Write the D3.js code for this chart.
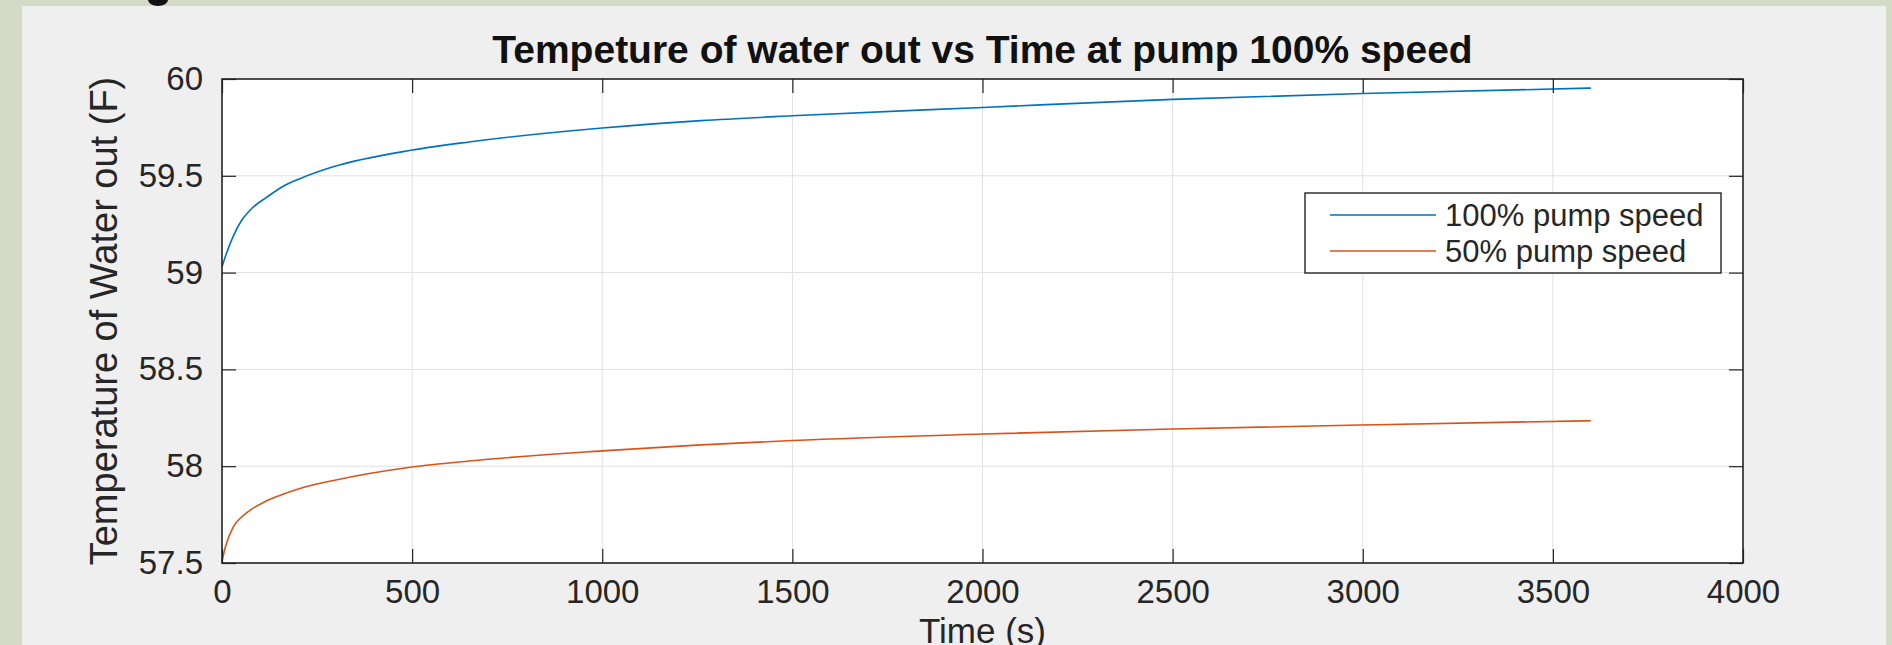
<!DOCTYPE html>
<html>
<head>
<meta charset="utf-8">
<script src="https://cdn.jsdelivr.net/npm/d3@7"></script>
<style>
body { margin: 0; background: #d3d8c4; }
svg { display: block; font-family: "Liberation Sans", Arial, Helvetica, sans-serif; }
</style>
</head>
<body>
<script>
// tiempos (s)
var tiempo = [0, 10, 30, 50, 75, 118, 160, 205, 290, 500, 650, 1000, 1260, 1500, 2000, 2500, 3000, 3600];
var bomba100 = [59.03, 59.09, 59.19, 59.265, 59.325, 59.39, 59.445, 59.485, 59.545, 59.633, 59.675, 59.747, 59.785, 59.81, 59.853, 59.895, 59.925, 59.953];
var bomba50 = [57.51, 57.59, 57.688, 57.735, 57.774, 57.822, 57.855, 57.885, 57.925, 57.996, 58.027, 58.079, 58.11, 58.133, 58.166, 58.192, 58.213, 58.235];

var series = ["100% pump speed", "50% pump speed"];
var colores = ["#0072bd", "#d95319"];

var xTicks = [0, 500, 1000, 1500, 2000, 2500, 3000, 3500, 4000];
var xLabels = ["0", "500", "1000", "1500", "2000", "2500", "3000", "3500", "4000"];
var yTicks = [57.5, 58, 58.5, 59, 59.5, 60];
var yLabels = ["57.5", "58", "58.5", "59", "59.5", "60"];

var titulo = "Tempeture of water out vs Time at pump 100% speed";
var xTitulo = "Time (s)";
var yTitulo = "Temperature of Water out (F)";

function graficar(){
    var W = 1892, H = 645;
    var left = 222, top = 79, right = 1743, bottom = 563;

    var svg = d3.select("body")
        .append("svg")
        .attr("width", W)
        .attr("height", H);

    // fondo de la diapositiva y de la figura
    svg.append("rect")
        .attr("width", W).attr("height", H)
        .attr("fill", "#d5dac6");
    svg.append("ellipse")
        .attr("cx", 158).attr("cy", 0)
        .attr("rx", 10).attr("ry", 6)
        .attr("fill", "#111");
    svg.append("rect")
        .attr("x", 22).attr("y", 6)
        .attr("width", 1864).attr("height", H - 6)
        .attr("fill", "#efefef");

    var x = d3.scaleLinear().domain([0, 4000]).range([left, right]);
    var y = d3.scaleLinear().domain([57.5, 60]).range([bottom, top]);

    svg.append("rect")
        .attr("x", left).attr("y", top)
        .attr("width", right - left).attr("height", bottom - top)
        .attr("fill", "#fff");

    // rejilla
    svg.selectAll("line.gx")
        .data(xTicks.slice(1, -1))
        .enter().append("line")
        .attr("class", "gx")
        .attr("x1", function(d){ return x(d); })
        .attr("x2", function(d){ return x(d); })
        .attr("y1", top).attr("y2", bottom)
        .attr("stroke", "#e0e0e0").attr("stroke-width", 1);
    svg.selectAll("line.gy")
        .data(yTicks.slice(1, -1))
        .enter().append("line")
        .attr("class", "gy")
        .attr("y1", function(d){ return y(d); })
        .attr("y2", function(d){ return y(d); })
        .attr("x1", left).attr("x2", right)
        .attr("stroke", "#e0e0e0").attr("stroke-width", 1);

    // lineas
    var linea = d3.line()
        .x(function(d, i){ return x(tiempo[i]); })
        .y(function(d){ return y(d); })
        .curve(d3.curveMonotoneX);

    [bomba100, bomba50].forEach(function(s, k){
        svg.append("path")
            .attr("d", linea(s))
            .attr("fill", "none")
            .attr("stroke", colores[k])
            .attr("stroke-width", 1.6);
    });

    // ejes (ticks hacia dentro)
    var ejeX = d3.axisBottom(x).tickValues(xTicks)
        .tickFormat(function(d, i){ return xLabels[i]; })
        .tickSizeInner(-14).tickSizeOuter(0).tickPadding(17);
    var ejeY = d3.axisLeft(y).tickValues(yTicks)
        .tickFormat(function(d, i){ return yLabels[i]; })
        .tickSizeInner(-14).tickSizeOuter(0).tickPadding(19);

    svg.append("g").attr("transform", "translate(0," + bottom + ")").call(ejeX);
    svg.append("g").attr("transform", "translate(" + left + ",0)").call(ejeY);
    svg.append("g").attr("transform", "translate(0," + top + ")")
        .call(d3.axisTop(x).tickValues(xTicks).tickFormat("").tickSizeInner(-14).tickSizeOuter(0));
    svg.append("g").attr("transform", "translate(" + right + ",0)")
        .call(d3.axisRight(y).tickValues(yTicks).tickFormat("").tickSizeInner(-14).tickSizeOuter(0));

    svg.selectAll(".domain").remove();
    svg.selectAll(".tick line").attr("stroke", "#222").attr("stroke-width", 1.2);
    svg.selectAll(".tick text")
        .attr("font-size", 33)
        .attr("font-family", "Liberation Sans, Arial, sans-serif")
        .attr("fill", "#262626");

    svg.append("rect")
        .attr("x", left).attr("y", top)
        .attr("width", right - left).attr("height", bottom - top)
        .attr("fill", "none")
        .attr("stroke", "#222").attr("stroke-width", 1.6);

    // textos
    svg.append("text")
        .text(titulo)
        .attr("x", (left + right) / 2)
        .attr("y", 63)
        .attr("text-anchor", "middle")
        .attr("font-size", 39)
        .attr("font-weight", "bold")
        .attr("fill", "#111");

    svg.append("text")
        .text(xTitulo)
        .attr("x", (left + right) / 2)
        .attr("y", 643)
        .attr("text-anchor", "middle")
        .attr("font-size", 35)
        .attr("fill", "#262626");

    svg.append("text")
        .text(yTitulo)
        .attr("transform", "translate(117," + ((top + bottom) / 2) + ") rotate(-90)")
        .attr("text-anchor", "middle")
        .attr("font-size", 38)
        .attr("fill", "#262626");

    // leyenda
    var leg = svg.append("g").attr("transform", "translate(1305,193)");
    leg.append("rect")
        .attr("width", 416).attr("height", 80)
        .attr("fill", "#fff")
        .attr("stroke", "#222").attr("stroke-width", 1.4);
    leg.selectAll("line.l")
        .data(series)
        .enter().append("line")
        .attr("class", "l")
        .attr("x1", 25).attr("x2", 131)
        .attr("y1", function(d, i){ return 22 + i * 36; })
        .attr("y2", function(d, i){ return 22 + i * 36; })
        .attr("stroke", function(d, i){ return colores[i]; })
        .attr("stroke-width", 1.6);
    leg.selectAll("text")
        .data(series)
        .enter().append("text")
        .text(function(d){ return d; })
        .attr("x", 140)
        .attr("y", function(d, i){ return 22 + i * 36; })
        .attr("dy", "0.35em")
        .attr("font-size", 31)
        .attr("fill", "#262626");
}

graficar();
</script>
</body>
</html>
